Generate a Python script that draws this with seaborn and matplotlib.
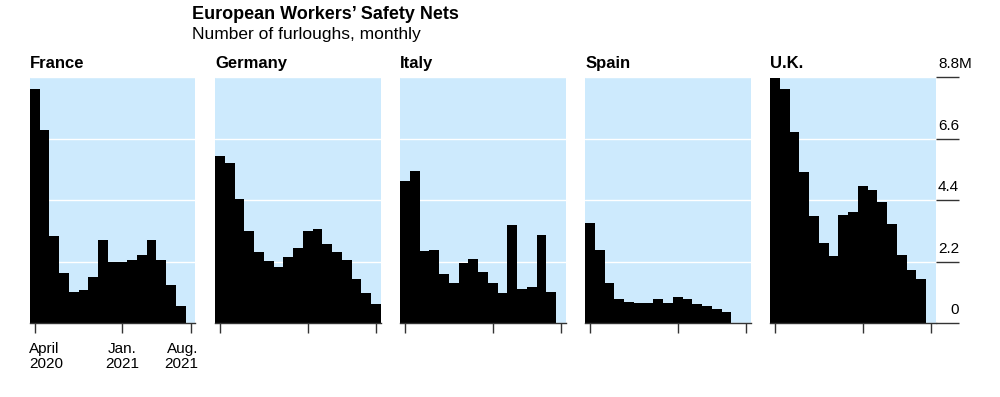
import matplotlib.pyplot as plt
import numpy as np
import pandas as pd
import seaborn as sns

# ---------------- data (millions of furloughed workers, monthly) ----------------
months = ['2020-04', '2020-05', '2020-06', '2020-07', '2020-08', '2020-09',
          '2020-10', '2020-11', '2020-12', '2021-01', '2021-02', '2021-03',
          '2021-04', '2021-05', '2021-06', '2021-07', '2021-08']

france  = [8.39, 6.90, 3.11, 1.79, 1.11, 1.18, 1.66, 2.97, 2.20, 2.18, 2.25, 2.43,
           2.97, 2.27, 1.38, 0.61, np.nan]
germany = [5.99, 5.72, 4.45, 3.30, 2.55, 2.23, 2.03, 2.38, 2.68, 3.30, 3.36, 2.83,
           2.55, 2.26, 1.58, 1.07, 0.69]
italy   = [5.09, 5.45, 2.59, 2.62, 1.75, 1.45, 2.15, 2.30, 1.83, 1.43, 1.08, 3.50,
           1.23, 1.29, 3.15, 1.12, np.nan]
spain   = [3.58, 2.61, 1.45, 0.88, 0.77, 0.72, 0.73, 0.87, 0.72, 0.93, 0.87, 0.68,
           0.63, 0.51, 0.39, np.nan, np.nan]
uk      = [8.78, 8.39, 6.83, 5.40, 3.83, 2.86, 2.40, 3.87, 3.97, 4.90, 4.76, 4.33,
           3.55, 2.44, 1.91, 1.57, np.nan]

countries = ['France', 'Germany', 'Italy', 'Spain', 'U.K.']
series = [france, germany, italy, spain, uk]

tick_pos = [0, 9, 16]
tick_labels = ['April\n2020', 'Jan.\n2021', 'Aug.\n2021']
y_ticks = [0, 2.2, 4.4, 6.6, 8.8]
y_labels = ['0', '2.2', '4.4', '6.6', '8.8']

# long-form table for seaborn
rows = []
for c, vals in zip(countries, series):
    for m, v in zip(months, vals):
        rows.append((c, m, v))
df = pd.DataFrame(rows, columns=['country', 'month', 'value']).dropna()

# ---------------- style ----------------
sns.set_theme(style='white')
plt.rcParams['font.family'] = ['Liberation Sans', 'DejaVu Sans']

BG = '#cdeafd'
DARK = '#333333'

fig = plt.figure(figsize=(10, 3.97), dpi=100)

lefts = [0.030, 0.2153, 0.4003, 0.5853, 0.7703]
bottom, width, height = 0.1856, 0.1654, 0.6196

for i, c in enumerate(countries):
    ax = fig.add_axes([lefts[i], bottom, width, height])
    ax.set_facecolor(BG)
    sns.barplot(data=df[df['country'] == c], x='month', y='value', order=months,
                color='black', width=1.0, linewidth=0,
                saturation=1, errorbar=None, ax=ax)
    ax.set_xlim(-0.5, len(months) - 0.5)
    ax.set_ylim(0, 8.8)
    ax.set_xlabel('')
    ax.set_ylabel('')

    ax.set_yticks(y_ticks)
    ax.yaxis.grid(True, color='white', linewidth=1.0)
    ax.set_axisbelow(True)
    for s in ['top', 'left', 'right']:
        ax.spines[s].set_visible(False)
    ax.spines['bottom'].set_color(DARK)
    ax.spines['bottom'].set_linewidth(1.0)
    ax.spines['bottom'].set_zorder(5)

    ax.set_xticks(tick_pos)
    ax.set_xticklabels([])
    ax.tick_params(axis='x', bottom=True, length=7.2, width=1.0, color=DARK)
    ax.tick_params(axis='y', left=False, labelleft=False)

    ax.annotate(c, xy=(0, 1), xycoords='axes fraction', xytext=(0, 6.5),
                textcoords='offset points', ha='left', va='baseline',
                fontsize=12, fontweight='bold', color='black')

    if i == 0:
        aligns = ['left', 'center', 'right']
        xs = [-0.5, 9, 16.5]
        offs = [-0.7, 0, 2.2]
        for x, lab, ha, dx in zip(xs, tick_labels, aligns, offs):
            ax.annotate(lab, xy=(x, 0), xycoords=('data', 'axes fraction'),
                        xytext=(dx, -13.2), textcoords='offset points',
                        ha=ha, va='top', fontsize=11, linespacing=1.1,
                        color='black')

    if i == len(countries) - 1:
        ax.tick_params(axis='y', right=True, length=16.8, width=1.0,
                       color=DARK, direction='out', labelright=False)
        for y, lab in zip(y_ticks, y_labels):
            ax.annotate(lab, xy=(1, y), xycoords=('axes fraction', 'data'),
                        xytext=(16.8, 6.5), textcoords='offset points',
                        ha='right', va='baseline', fontsize=11, color='black')
        ax.annotate('M', xy=(1, 8.8), xycoords=('axes fraction', 'data'),
                    xytext=(16.8, 6.5), textcoords='offset points',
                    ha='left', va='baseline', fontsize=11, color='black')

fig.text(0.1917, 0.9514, 'European Workers’ Safety Nets', ha='left',
         va='baseline', fontsize=13, fontweight='bold', color='black')
fig.text(0.1917, 0.901, 'Number of furloughs, monthly', ha='left',
         va='baseline', fontsize=12.5, color='black')

fig.savefig('out.png', dpi=100)
